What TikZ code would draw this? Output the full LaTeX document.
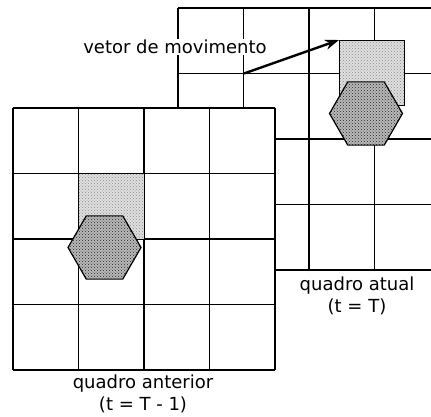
\documentclass[tikz,border=0pt]{standalone}
\usepackage{fontspec}
\setmainfont{DejaVu Sans}
\usetikzlibrary{arrows.meta,shapes.geometric,patterns}

\begin{document}
\begin{tikzpicture}[x=1pt,y=-1pt,
  linha/.style={line width=1.6pt},
  bloco/.style={draw=black,line width=0.9pt,minimum size=65.5pt,inner sep=0pt,outer sep=0pt,anchor=north west,preaction={fill=gray!25},pattern=crosshatch dots,pattern color=gray!90},
  hexa/.style={regular polygon,regular polygon sides=6,minimum size=73pt,inner sep=0pt,outer sep=0pt,draw=black,line width=1.2pt,preaction={fill=gray!55},pattern=crosshatch dots,pattern color=black!85},
  rotulo/.style={font=\fontsize{18}{22}\selectfont,align=center,inner sep=1pt}]
\useasboundingbox (0,0) rectangle (431,416);
\clip (0,0) rectangle (431,416);
% quadro atual
\foreach \i in {0,...,4} {
  \draw[linha] ({178+65.5*\i},8) -- ({178+65.5*\i},270);
  \draw[linha] (178,{8+65.5*\i}) -- (440,{8+65.5*\i});
}
\coordinate (origem) at (244,73.5);
\node[bloco] (blocoatual) at (339,40) {};
\node[hexa] (hexatual) at (366,113.5) {};
\node[rotulo] (txtatual) at (357,296) {quadro atual\\(t = T)};
% quadro anterior
\fill[white] (13,108) rectangle (275,370);
\foreach \i in {0,...,4} {
  \draw[linha] ({13+65.5*\i},108) -- ({13+65.5*\i},370);
  \draw[linha] (13,{108+65.5*\i}) -- (275,{108+65.5*\i});
}
\node[bloco] (blocoant) at (78.5,173.5) {};
\node[hexa] (hexant) at (104.5,247.5) {};
\node[rotulo] (txtant) at (143,394) {quadro anterior\\(t = T - 1)};
% vetor de movimento
\node[rotulo,fill=white] (txtvetor) at (175,47) {vetor de movimento};
\draw[-{Stealth[length=14pt,width=10pt]},line width=2.4pt] (origem) -- (blocoatual.north west);
\end{tikzpicture}
\end{document}
